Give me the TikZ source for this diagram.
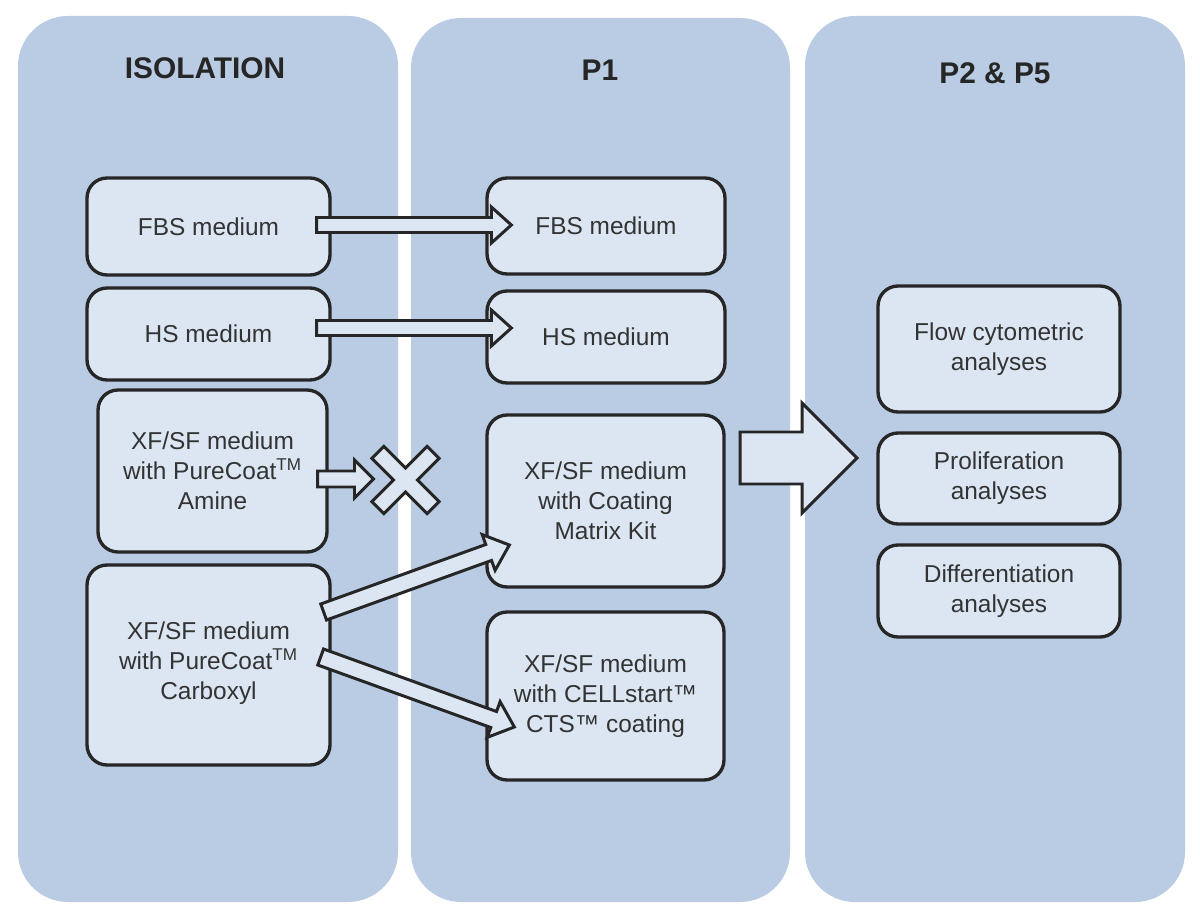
\documentclass[tikz,border=0pt]{standalone}
\usepackage{fontspec}
\setmainfont{Liberation Sans}
\usetikzlibrary{calc}
\definecolor{panelc}{HTML}{B9CCE4}
\definecolor{boxc}{HTML}{DCE6F2}
\definecolor{linec}{HTML}{262626}
\definecolor{textc}{HTML}{333333}
\def\blockarrow[#1](#2)(#3)(#4:#5:#6){\draw[#1] let \p1=($(#3)-(#2)$), \n1={atan2(\y1,\x1)}, \n2={veclen(\x1,\y1)} in
	($(#2)+(\n1+90:{#4*0.02cm})$) --
	($(#2)+(\n1:{\n2*1pt-#6*0.02cm})+(\n1+90:{#4*0.02cm})$) --
	($(#2)+(\n1:{\n2*1pt-#6*0.02cm})+(\n1+90:{#5*0.02cm})$) --
	(#3) --
	($(#2)+(\n1:{\n2*1pt-#6*0.02cm})+(\n1-90:{#5*0.02cm})$) --
	($(#2)+(\n1:{\n2*1pt-#6*0.02cm})+(\n1-90:{#4*0.02cm})$) --
	($(#2)+(\n1-90:{#4*0.02cm})$) -- cycle;}

\begin{document}
\begin{tikzpicture}[x=0.02cm, y=-0.02cm,
	panel/.style={fill=panelc, draw=none, rounded corners=1cm},
	title/.style={text=linec, font=\bfseries\fontsize{17pt}{20pt}\selectfont},
	stepbox/.style={draw=linec, fill=boxc, line width=1.9pt, rounded corners=0.4cm, align=center, text=textc, font=\fontsize{13.9pt}{17pt}\selectfont},
	arrowbox/.style={draw=linec, fill=boxc, line width=1.7pt, line join=miter}]
			%%%%% START %%%%%
			
			\useasboundingbox[fill=white] (0,0) rectangle (1200,918);
			
			\draw[panel] (18,16) rectangle (398,902);
			\draw[panel] (411,18) rectangle (790,902);
			\draw[panel] (805,16) rectangle (1185,902);
			
			\node[title] (tiso) at (205,68) {ISOLATION};
			\node[title] (tpone) at (600,70) {P1};
			\node[title] (tptwo) at (995,73) {P2 \& P5};
			
			\node[stepbox, minimum width=4.86cm, minimum height=1.94cm] (fbs0) at (208.5,226.5) {FBS medium};
			\node[stepbox, minimum width=4.86cm, minimum height=1.84cm] (hs0) at (208.5,334) {HS medium};
			\node[stepbox, minimum width=4.58cm, minimum height=3.24cm] (amine) at (212.5,471) {XF/SF medium\\with PureCoat\textsuperscript{TM}\\Amine};
			\node[stepbox, minimum width=4.86cm, minimum height=4cm, text depth=0.16cm] (carb) at (208.5,665) {XF/SF medium\\with PureCoat\textsuperscript{TM}\\Carboxyl};
			
			\node[stepbox, minimum width=4.76cm, minimum height=1.92cm] (fbs1) at (606,226) {FBS medium};
			\node[stepbox, minimum width=4.76cm, minimum height=1.84cm] (hs1) at (606,337) {HS medium};
			\node[stepbox, minimum width=4.74cm, minimum height=3.44cm] (coat) at (605.5,501) {XF/SF medium\\with Coating\\Matrix Kit};
			\node[stepbox, minimum width=4.74cm, minimum height=3.36cm] (cell) at (605.5,696) {XF/SF medium\\with CELLstart™\\CTS™ coating};
			
			\node[stepbox, minimum width=4.84cm, minimum height=2.52cm] (flow) at (999,349) {Flow cytometric\\analyses};
			\node[stepbox, minimum width=4.84cm, minimum height=1.82cm] (prol) at (999,478.5) {Proliferation\\analyses};
			\node[stepbox, minimum width=4.84cm, minimum height=1.84cm] (diff) at (999,591) {Differentiation\\analyses};
			
			% arrow ends
			\coordinate (fbsA) at ($(fbs0.east)+(-15,-1.5)$);
			\coordinate (fbsB) at ($(fbs1.west)+(26,-1)$);
			\coordinate (hsA) at ($(hs0.east)+(-15,-6)$);
			\coordinate (hsB) at ($(hs1.west)+(26,-9)$);
			\coordinate (amA) at ($(amine.east)+(-11,8)$);
			\coordinate (cross) at (405.5,480);
			\coordinate (amB) at ($(cross)+(-32,-1)$);
			\coordinate (upA) at ($(carb.east)+(-8,-53)$);
			\coordinate (upB) at ($(coat.west)+(24,44)$);
			\coordinate (loA) at ($(carb.east)+(-11,-8)$);
			\coordinate (loB) at ($(cell.west)+(29,31)$);
			\coordinate (bigA) at (740,458);
			\coordinate (bigB) at (857,458);
			
			\blockarrow[arrowbox](fbsA)(fbsB)(7.5:18:20)
			\blockarrow[arrowbox](hsA)(hsB)(7.5:18:20)
			\blockarrow[arrowbox](amA)(amB)(8:19:19)
			\blockarrow[arrowbox](upA)(upB)(8.5:19:22)
			\blockarrow[arrowbox](loA)(loB)(8.5:19:22)
			\blockarrow[arrowbox](bigA)(bigB)(26:55:55)
			
			\begin{scope}[shift={(cross)}, rotate=45]
				\draw[arrowbox] (8.5,8.5) -- (8.5,39) -- (-8.5,39) -- (-8.5,8.5) -- (-39,8.5) -- (-39,-8.5) -- (-8.5,-8.5) -- (-8.5,-39) -- (8.5,-39) -- (8.5,-8.5) -- (39,-8.5) -- (39,8.5) -- cycle;
			\end{scope}
			
			%%%%% END %%%%%
\end{tikzpicture}
\end{document}
